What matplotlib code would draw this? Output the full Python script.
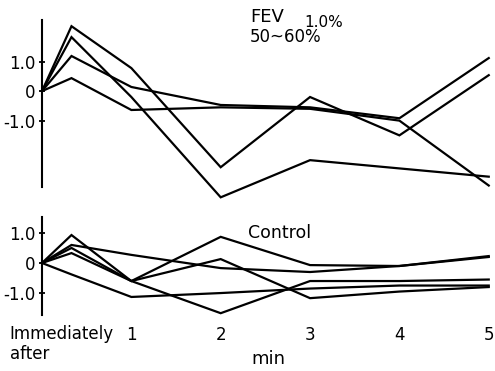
import matplotlib
matplotlib.use('Agg')
import matplotlib.pyplot as plt

# time points: start, immediately after, then 1..5 min
x = [0, 0.33, 1, 2, 3, 4, 5]

# FEV 1.0% 50~60% group
fev_a = [0, 2.2, 0.78, -2.58, -0.2, -1.5, 0.54]
fev_b = [0, 1.83, -0.2, -3.6, -2.34, -2.62, -2.9]
fev_c = [0, 1.19, 0.14, -0.47, -0.55, -0.92, 1.12]
fev_d = [0, 0.44, -0.64, -0.55, -0.6, -1.0, -3.2]

# control group
ctl_a = [0, 0.93, -0.6, 0.87, -0.07, -0.1, 0.23]
ctl_b = [0, 0.5, -0.6, 0.13, -1.17, -0.95, -0.8]
ctl_c = [0, 0.33, -0.6, -1.67, -0.6, -0.6, -0.55]
ctl_d = [0, 0.6, 0.27, -0.17, -0.3, -0.1, 0.2]
ctl_e = [0, -0.38, -1.13, -1.0, -0.85, -0.75, -0.75]

yticks = [1.0, 0, -1.0]
ytick_labels = ['1.0', '0', '-1.0']
xticks = [1, 2, 3, 4, 5]
xtick_labels = ['1', '2', '3', '4', '5']

plt.rcParams['font.family'] = ['DejaVu Sans']
fig = plt.figure(figsize=(4.95, 3.71), dpi=100)

ax1 = fig.add_axes([42/495, 1-187/371, 1-42/495, 167/371])
ax2 = fig.add_axes([42/495, 1-315/371, 1-42/495, 98/371])

for ax, series, ylim in [(ax1, [fev_a, fev_b, fev_c, fev_d], (-3.25, 2.41)),
                         (ax2, [ctl_a, ctl_b, ctl_c, ctl_d, ctl_e], (-1.73, 1.53))]:
    for s in series:
        ax.plot(x, s, color='black', lw=1.6, clip_on=False, solid_joinstyle='miter')
    ax.set_xlim(0, 5.07)
    ax.set_ylim(*ylim)
    for sp in ['top', 'right', 'bottom']:
        ax.spines[sp].set_visible(False)
    ax.spines['left'].set_linewidth(1.5)
    ax.set_yticks(yticks)
    ax.set_yticklabels(ytick_labels, fontsize=12)
    ax.tick_params(axis='y', direction='inout', length=5, width=1.3, pad=2)
    ax.set_facecolor('none')

ax1.set_xticks([])
ax2.set_xticks(xticks)
ax2.set_xticklabels(xtick_labels, fontsize=12)
ax2.tick_params(axis='x', length=0, pad=8)
ax2.set_xlabel('min', fontsize=13, labelpad=4)
ax2.text(-0.36, -0.105, 'Immediately\nafter', transform=ax2.get_xaxis_transform(),
         ha='left', va='top', fontsize=12, linespacing=1.15)

fig.text(250/495, 1-22/371, 'FEV', fontsize=13, ha='left', va='baseline')
fig.text(304/495, 1-27/371, '1.0%', fontsize=11, ha='left', va='baseline')
fig.text(250/495, 1-42/371, '50~60%', fontsize=12, ha='left', va='baseline')
fig.text(248/495, 1-238/371, 'Control', fontsize=12.5, ha='left', va='baseline')

plt.savefig('out.png', dpi=100)
